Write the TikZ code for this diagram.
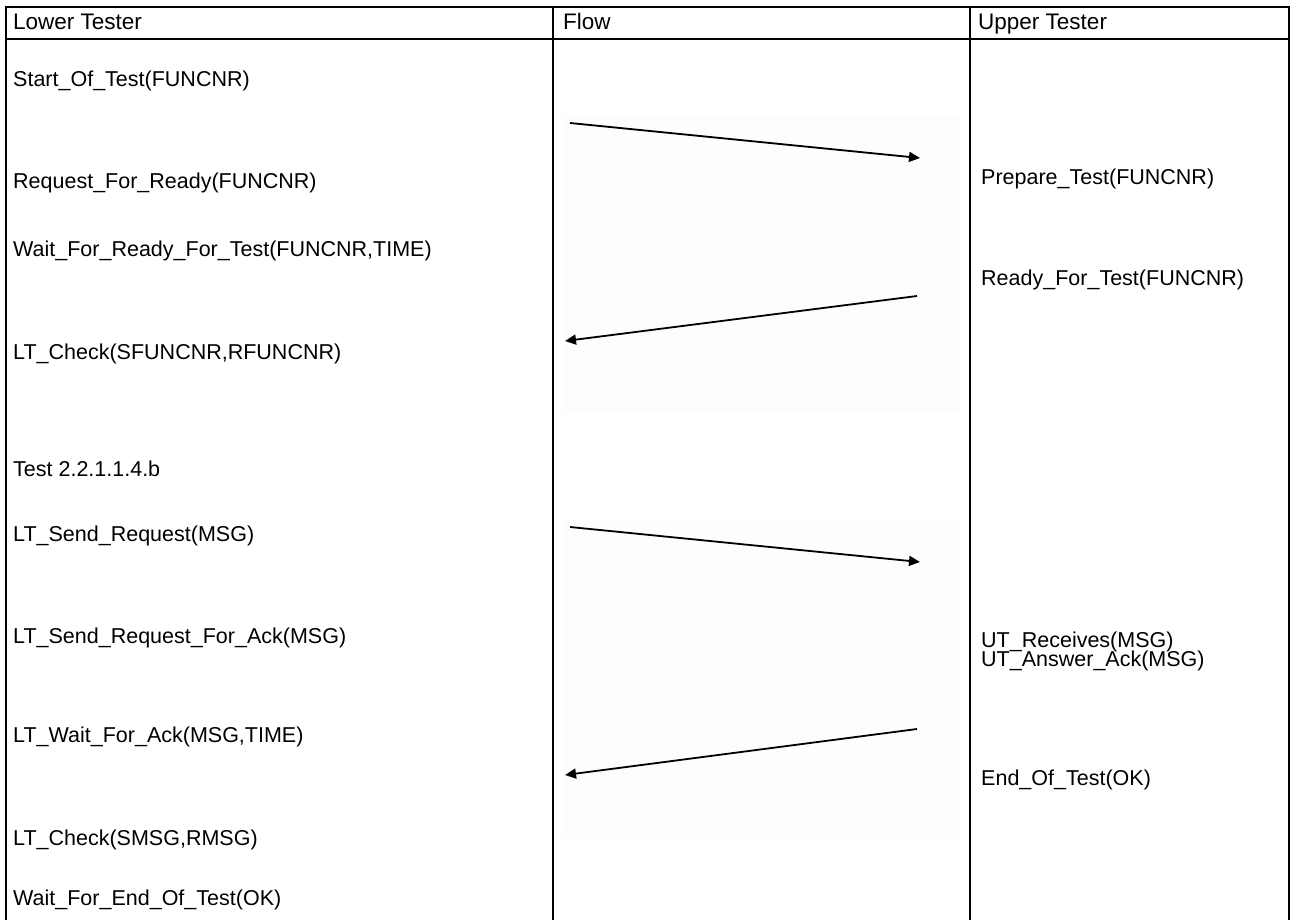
\documentclass[tikz,border=0pt]{standalone}
\usepackage{fontspec}
\setmainfont{Liberation Sans}
\usetikzlibrary{arrows.meta}
\begin{document}
\begin{tikzpicture}[x=1pt,y=-1pt,
  rule/.style={line width=2pt,line cap=rect},
  head/.style={anchor=base west,inner sep=0pt,font=\fontsize{22.5}{26}\selectfont},
  call/.style={anchor=base west,inner sep=0pt,font=\fontsize{21.5}{24}\selectfont},
  msg/.style={line width=1.8pt,-{Triangle[length=11pt,width=10pt]}},
  shade/.style={fill=black!0.8,draw=none}]
\useasboundingbox (0,0) rectangle (1291,919);
\fill[white] (0,0) rectangle (1291,919);

% faint panels behind the flow arrows
\fill[shade] (563,115) rectangle (962,413);
\fill[shade] (563,518) rectangle (962,838);

% table frame
\draw[rule] (6,925) -- (6,7) -- (1289,7) -- (1289,925);
\draw[rule] (6,39) -- (1289,39);
\draw[rule] (553,7) -- (553,925);
\draw[rule] (970,7) -- (970,925);

% column headers
\node[head] (hLT) at (13,29) {Lower Tester};
\node[head] (hFL) at (563,29) {Flow};
\node[head] (hUT) at (978,29) {Upper Tester};

% lower tester column
\node[call] (l1) at (13,86) {Start\_Of\_Test(FUNCNR)};
\node[call] (l2) at (13,188) {Request\_For\_Ready(FUNCNR)};
\node[call] (l3) at (13,256) {Wait\_For\_Ready\_For\_Test(FUNCNR,TIME)};
\node[call] (l4) at (13,359) {LT\_Check(SFUNCNR,RFUNCNR)};
\node[call] (l5) at (13,476) {Test 2.2.1.1.4.b};
\node[call] (l6) at (13,541) {LT\_Send\_Request(MSG)};
\node[call] (l7) at (13,643) {LT\_Send\_Request\_For\_Ack(MSG)};
\node[call] (l8) at (13,742) {LT\_Wait\_For\_Ack(MSG,TIME)};
\node[call] (l9) at (13,845) {LT\_Check(SMSG,RMSG)};
\node[call] (l10) at (13,905) {Wait\_For\_End\_Of\_Test(OK)};

% upper tester column
\node[call] (u1) at (981,184) {Prepare\_Test(FUNCNR)};
\node[call] (u2) at (981,285) {Ready\_For\_Test(FUNCNR)};
\node[call] (u3) at (981,647) {UT\_Receives(MSG)};
\node[call] (u4) at (981,666) {UT\_Answer\_Ack(MSG)};
\node[call] (u5) at (981,785) {End\_Of\_Test(OK)};

% message arrows
\coordinate (a1s) at (570,123); \coordinate (a1e) at (920,158);
\coordinate (a2s) at (917,296); \coordinate (a2e) at (565,341);
\coordinate (a3s) at (570,527); \coordinate (a3e) at (920,562);
\coordinate (a4s) at (917,729); \coordinate (a4e) at (565,775);
\draw[msg] (a1s) -- (a1e);
\draw[msg] (a2s) -- (a2e);
\draw[msg] (a3s) -- (a3e);
\draw[msg] (a4s) -- (a4e);
\end{tikzpicture}
\end{document}
